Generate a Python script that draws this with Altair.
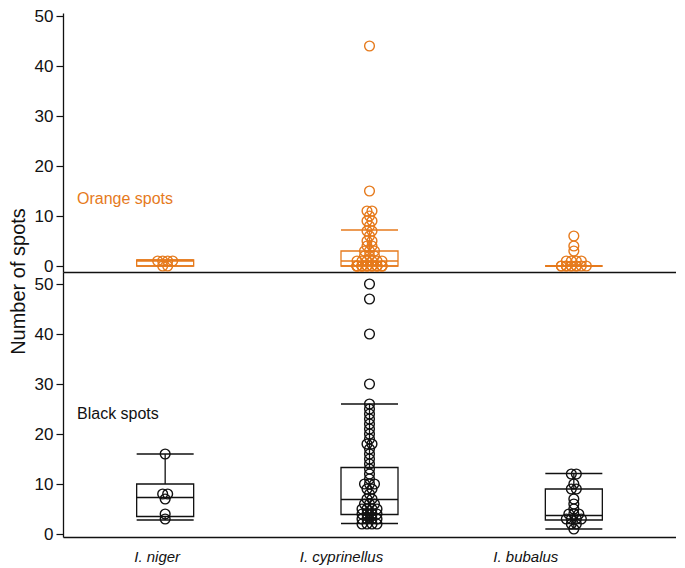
import altair as alt
import pandas as pd

species = ["I. niger", "I. cyprinellus", "I. bubalus"]

# individual counts
orange_niger = [0, 0, 1, 1, 1, 1]
orange_cyprinellus = [44, 15, 11, 11, 10, 9, 9, 8, 7, 7, 6, 5, 5, 4, 4, 3, 3, 3, 2, 2, 2,
                      1, 1, 1, 1, 1, 1, 0, 0, 0, 0, 0, 0, 0, 0, 0, 0, 0, 0, 0, 0, 0, 0,
                      0, 0, 0, 0]
orange_bubalus = [6, 4, 3, 1, 1, 1, 1, 0, 0, 0, 0, 0, 0, 0, 0, 0, 0]

black_niger = [16, 8, 8, 7, 4, 3]
black_cyprinellus = [50, 47, 40, 30, 26, 25, 24, 23, 22, 21, 20, 19, 18, 18, 17, 16, 15,
                     14, 13, 12, 11, 10, 10, 10, 9, 9, 8, 7, 7, 6, 6, 6, 5, 5, 5, 5,
                     4, 4, 4, 4, 3, 3, 3, 3, 2, 2, 2, 2]
black_bubalus = [12, 12, 10, 9, 9, 7, 6, 5, 4, 4, 4, 3, 3, 3, 3, 2, 2, 1]

# box summaries
orange_low = [0, 0, 0]
orange_q1 = [0, 0, 0]
orange_med = [1, 1, 0]
orange_q3 = [1.2, 3, 0]
orange_high = [1.2, 7.2, 0]

black_low = [2.8, 2.1, 1]
black_q1 = [3.5, 3.9, 2.8]
black_med = [7.3, 6.9, 3.7]
black_q3 = [10, 13.3, 9]
black_high = [16, 26, 12.1]

ORANGE = "#E67A1C"
BLACK = "#111111"
FONT = "Liberation Sans"
W = 613
BAND = W / 3
BOXW = 57


def points_df(lists):
    rows = []
    for sp, vals in zip(species, lists):
        for v in vals:
            rows.append({"species": sp, "value": v})
    return pd.DataFrame(rows)


def stats_df(low, q1, med, q3, high):
    return pd.DataFrame({"species": species, "low": low, "q1": q1, "med": med,
                         "q3": q3, "high": high})


def panel(pts, st, color, ydom, height, label, label_y, xaxis, yaxis):
    xs = alt.Scale(domain=species, paddingInner=0, paddingOuter=0)
    x = alt.X("species:N", sort=species, scale=xs, axis=xaxis)
    ys = alt.Scale(domain=ydom, nice=False, zero=False)

    box = alt.Chart(st).mark_bar(size=BOXW, fill="white", stroke=color, strokeWidth=1.3).encode(
        x=x, y=alt.Y("q1:Q", scale=ys, axis=yaxis), y2="q3:Q")
    w_up = alt.Chart(st).mark_rule(color=color, strokeWidth=1.3).encode(
        x=x, y=alt.Y("q3:Q", scale=ys, axis=yaxis), y2="high:Q")
    w_lo = alt.Chart(st).mark_rule(color=color, strokeWidth=1.3).encode(
        x=x, y=alt.Y("low:Q", scale=ys, axis=yaxis), y2="q1:Q")
    tick_kw = dict(size=BOXW, thickness=1.4, orient="horizontal", color=color, opacity=1)
    med = alt.Chart(st).mark_tick(**tick_kw).encode(x=x, y=alt.Y("med:Q", scale=ys, axis=yaxis))
    cap_hi = alt.Chart(st).mark_tick(**tick_kw).encode(x=x, y=alt.Y("high:Q", scale=ys, axis=yaxis))
    cap_lo = alt.Chart(st).mark_tick(**tick_kw).encode(x=x, y=alt.Y("low:Q", scale=ys, axis=yaxis))

    pts_layer = alt.Chart(pts).transform_window(
        k="row_number()", groupby=["species", "value"]
    ).transform_joinaggregate(
        n="count()", groupby=["species", "value"]
    ).transform_calculate(
        jit="((datum.k - 1) % 6 - min(datum.n - 1, 5) / 2) * 5"
    ).mark_point(shape="circle", filled=False, size=95, strokeWidth=1.4, color=color, opacity=1).encode(
        x=x,
        xOffset=alt.XOffset("jit:Q", scale=alt.Scale(domain=[-30, 30], range=[BAND / 2 - 30, BAND / 2 + 30])),
        y=alt.Y("value:Q", scale=ys, axis=yaxis),
    )

    txt = alt.Chart(pd.DataFrame({"t": [label]})).mark_text(
        align="left", baseline="middle", fontSize=16, font=FONT, color=color
    ).encode(text="t:N", x=alt.value(14), y=alt.datum(label_y, scale=ys, axis=yaxis))

    return alt.layer(box, w_up, w_lo, med, cap_hi, cap_lo, pts_layer, txt).properties(
        width=W, height=height)


yaxis_common = dict(values=[0, 10, 20, 30, 40, 50], grid=False, tickSize=7, tickColor=BLACK,
                    domainColor=BLACK, domainWidth=1.3, tickWidth=1.2, labelFontSize=17,
                    labelColor=BLACK, labelPadding=3, labelFont=FONT)

yaxis_top = alt.Axis(title="Number of spots", titleX=-35, titleY=268, titleFontSize=20,
                     titleFontWeight="normal", titleFont=FONT, titleColor=BLACK, **yaxis_common)
yaxis_bot = alt.Axis(title=None, **yaxis_common)

xaxis_top = alt.Axis(title=None, labels=False, ticks=False, domainColor=BLACK, domainWidth=1.5, grid=False)
xaxis_bot = alt.Axis(
    title=None, ticks=False, domainColor=BLACK, domainWidth=1.5, grid=False, labelAngle=0,
    labelFontStyle="italic", labelFontSize=15, labelFont=FONT, labelColor=BLACK, labelPadding=12,
    labelOffset={"condition": [{"test": "datum.value === 'I. niger'", "value": -8},
                               {"test": "datum.value === 'I. cyprinellus'", "value": -28}],
                 "value": -48},
)

top = panel(points_df([orange_niger, orange_cyprinellus, orange_bubalus]),
            stats_df(orange_low, orange_q1, orange_med, orange_q3, orange_high),
            ORANGE, [-1.2, 50.6], 259, "Orange spots", 13.4, xaxis_top, yaxis_top)
bottom = panel(points_df([black_niger, black_cyprinellus, black_bubalus]),
               stats_df(black_low, black_q1, black_med, black_q3, black_high),
               BLACK, [-0.6, 52.4], 265, "Black spots", 24, xaxis_bot, yaxis_bot)

chart = alt.vconcat(top, bottom, spacing=0, bounds="flush").configure_view(stroke=None).properties(
    padding={"left": 0, "top": -2, "right": 0, "bottom": 5})

chart.save("out.html", embed_options={"renderer": "svg", "actions": False})
